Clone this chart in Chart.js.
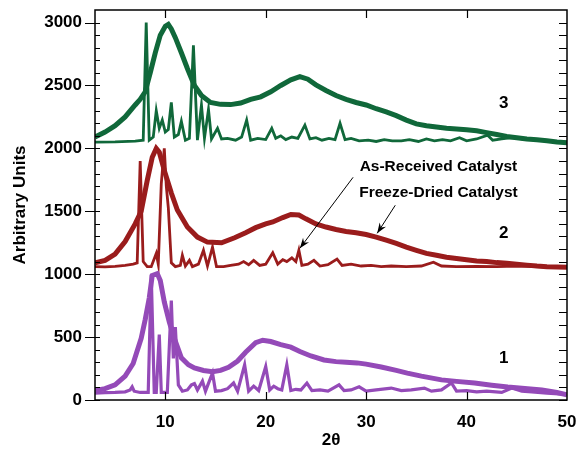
<!DOCTYPE html>
<html>
<head>
<meta charset="utf-8">
<script src="https://cdn.jsdelivr.net/npm/chart.js@4.4.1/dist/chart.umd.min.js"></script>
<style>
  html, body { margin: 0; padding: 0; background: #fff; }
  #wrap { position: relative; width: 577px; height: 449px; }
</style>
</head>
<body>
<div id="wrap"><canvas id="chart"></canvas></div>
<script>
// sample 3 (top, green)
const s3HumpX = [3, 4, 5, 6, 7, 7.5, 8.0, 8.5, 9.0, 9.5, 10.0, 10.3, 10.6, 11.0, 11.6, 12.2, 12.9, 13.6, 14.5, 15.5, 16.5, 17.5, 18.5, 19.5, 20.5, 21.5, 22.5, 23.4, 24.2, 25.0, 26.0, 27.0, 28.0, 29.0, 30.0, 31.0, 32.0, 33.0, 34.0, 35.0, 36.0, 37.0, 38.0, 39.0, 40.0, 41.0, 42.0, 43.0, 44.0, 45.0, 46.0, 47.0, 48.0, 49.0, 50];
const s3HumpY = [2090, 2130, 2180, 2250, 2345, 2390, 2450, 2600, 2760, 2900, 2970, 2985, 2950, 2880, 2760, 2635, 2500, 2420, 2365, 2350, 2348, 2360, 2390, 2410, 2450, 2500, 2545, 2570, 2550, 2505, 2460, 2420, 2390, 2365, 2345, 2315, 2290, 2260, 2225, 2195, 2180, 2170, 2160, 2155, 2148, 2140, 2125, 2110, 2095, 2085, 2075, 2068, 2060, 2050, 2045];
const s3PeaksX = [3, 5, 7, 7.8, 8.1, 8.4, 8.8, 9.1, 9.4, 9.7, 10.0, 10.3, 10.6, 10.9, 11.3, 11.6, 12.0, 12.4, 12.8, 13.2, 13.6, 13.9, 14.3, 14.6, 15.2, 15.6, 16.2, 17.0, 17.6, 18.1, 18.5, 19.2, 20.0, 20.6, 21.0, 21.5, 22.0, 22.6, 23.2, 23.9, 24.4, 25.0, 25.6, 26.3, 26.9, 27.4, 27.9, 28.5, 29.3, 30.2, 31.0, 31.8, 32.6, 33.5, 34.3, 35.2, 36.0, 36.8, 37.6, 38.4, 39.3, 40.0, 41.0, 42.1, 42.6, 43.5, 44.5, 45.5, 46.5, 47.5, 48.5, 50];
const s3PeaksY = [2050, 2052, 2058, 2065, 3000, 2065, 2090, 2300, 2160, 2225, 2130, 2150, 2365, 2090, 2110, 2215, 2065, 2080, 2820, 2065, 2345, 2080, 2310, 2075, 2160, 2075, 2080, 2065, 2090, 2225, 2065, 2080, 2070, 2160, 2080, 2100, 2070, 2090, 2080, 2185, 2075, 2085, 2065, 2080, 2070, 2200, 2070, 2080, 2060, 2065, 2055, 2070, 2060, 2060, 2070, 2055, 2075, 2060, 2070, 2060, 2085, 2060, 2075, 2105, 2065, 2075, 2085, 2075, 2070, 2065, 2055, 2050];

// sample 2 (middle, red)
const s2HumpX = [3, 4, 5, 6, 7, 7.6, 8.2, 8.7, 9.1, 9.4, 9.9, 10.6, 11.2, 12.2, 13.2, 14.2, 15.6, 16.9, 18.0, 19.0, 20.0, 20.7, 21.7, 22.5, 23.3, 24.0, 25.0, 26.0, 27.0, 28.0, 29.0, 30.0, 31.0, 32.0, 33.0, 34.0, 35.0, 36.0, 37.0, 38.0, 39.0, 40.0, 41.0, 42.0, 43.0, 44.0, 45.0, 46.0, 47.0, 48.0, 49.0, 50];
const s2HumpY = [1090, 1110, 1160, 1260, 1400, 1500, 1745, 1930, 2000, 1970, 1825, 1645, 1510, 1375, 1295, 1255, 1250, 1290, 1330, 1370, 1400, 1415, 1450, 1475, 1470, 1440, 1400, 1375, 1355, 1340, 1330, 1315, 1295, 1270, 1245, 1215, 1190, 1165, 1150, 1135, 1125, 1115, 1105, 1100, 1092, 1087, 1080, 1072, 1065, 1060, 1057, 1055];
const s2PeaksX = [3, 4, 5, 6, 6.8, 7.2, 7.5, 7.8, 8.2, 8.6, 9.1, 9.3, 9.6, 9.9, 10.1, 10.3, 10.6, 11.0, 11.5, 11.7, 12.0, 12.4, 12.7, 13.3, 13.8, 14.2, 14.7, 15.1, 15.8, 16.5, 17.3, 17.8, 18.3, 18.8, 19.4, 20.0, 20.7, 21.2, 21.7, 22.1, 22.6, 23.0, 23.3, 23.6, 24.2, 24.8, 25.4, 26.2, 27.1, 27.6, 28.5, 29.5, 30.5, 31.5, 32.5, 34, 35.5, 36.7, 37.5, 39, 41, 43, 45, 47, 50];
const s2PeaksY = [1060, 1058, 1062, 1070, 1080, 1090, 1900, 1100, 1060, 1060, 1165, 1080, 1720, 2000, 1700, 1530, 1090, 1060, 1070, 1150, 1065, 1110, 1060, 1080, 1190, 1065, 1215, 1060, 1060, 1070, 1080, 1100, 1075, 1110, 1070, 1080, 1170, 1080, 1115, 1100, 1130, 1100, 1190, 1070, 1080, 1110, 1065, 1075, 1120, 1070, 1080, 1065, 1070, 1060, 1065, 1060, 1065, 1095, 1065, 1060, 1062, 1060, 1065, 1060, 1055];

// sample 1 (bottom, purple)
const s1HumpX = [3, 4, 5, 6, 6.8, 7.6, 8.0, 8.4, 8.7, 9.2, 9.5, 9.9, 10.4, 10.9, 11.6, 12.3, 12.9, 13.8, 14.7, 15.5, 16.3, 17.2, 18.0, 19.0, 19.7, 20.5, 21.5, 22.5, 23.4, 24.5, 25.8, 27.0, 28.0, 29.1, 30.0, 31.5, 33.0, 34.1, 35.5, 37.5, 39.0, 40.8, 42.5, 44.1, 45.8, 47.5, 49.0, 50];
const s1HumpY = [75, 90, 120, 190, 290, 490, 640, 810, 990, 1005, 950, 780, 620, 490, 335, 280, 255, 235, 225, 235, 260, 310, 380, 455, 475, 465, 440, 420, 385, 350, 318, 305, 300, 295, 285, 262, 235, 214, 190, 160, 148, 135, 118, 103, 92, 79, 60, 42];
const s1PeaksX = [3, 4, 5, 6, 6.5, 6.7, 6.9, 7.5, 8.3, 8.6, 8.9, 9.1, 9.4, 9.6, 10.2, 10.6, 10.8, 11.0, 11.3, 11.7, 12.2, 12.6, 12.9, 13.2, 13.7, 14.0, 14.7, 15.0, 15.6, 16.2, 16.8, 17.2, 17.9, 18.3, 18.8, 19.3, 20.0, 20.4, 20.8, 21.2, 21.6, 22.1, 22.5, 23.0, 23.5, 24.1, 24.6, 25.4, 26.2, 27.3, 27.8, 28.5, 29.3, 30.0, 31.0, 32.5, 33.5, 34.5, 35.8, 36.5, 37.5, 38.5, 39.0, 40, 41, 42, 43.5, 44.5, 45.5, 46.5, 48, 50];
const s1PeaksY = [55, 58, 60, 65, 80, 105, 70, 60, 60, 995, 60, 60, 520, 60, 60, 790, 330, 580, 120, 70, 80, 120, 130, 80, 150, 70, 215, 70, 75, 90, 135, 70, 280, 70, 110, 75, 265, 80, 110, 90, 80, 280, 75, 85, 80, 135, 75, 80, 70, 120, 75, 80, 105, 70, 80, 95, 75, 80, 95, 70, 80, 135, 70, 75, 65, 70, 60, 95, 70, 65, 55, 45];

const xTickValues = [10, 20, 30, 40, 50];
const yTickValues = [0, 500, 1000, 1500, 2000, 2500, 3000];
const sampleNames = ['1', '2', '3'];
const arrowLabels = ['As-Received Catalyst', 'Freeze-Dried Catalyst'];

const green = '#10683a';
const red = '#9a1c1c';
const purple = '#944ab8';
const FONT = '"Liberation Sans", Arial, sans-serif';

function pts(xs, ys) {
    return xs.map((x, i) => ({ x: x, y: ys[i] }));
}

function line(xs, ys, color, width) {
    return {
        data: pts(xs, ys),
        borderColor: color,
        borderWidth: width,
        pointRadius: 0,
        tension: 0,
        fill: false
    };
}

// frame, inward/outward tick marks, annotations and arrows
const decorations = {
    id: 'decorations',
    afterDraw(chart) {
        const { ctx, chartArea: a, scales: { x, y } } = chart;
        ctx.save();
        ctx.strokeStyle = '#000';
        ctx.lineWidth = 1.5;
        ctx.strokeRect(a.left, a.top, a.right - a.left, a.bottom - a.top);

        ctx.lineWidth = 1.2;
        ctx.beginPath();
        for (let v = 0; v <= 3000; v += 100) {
            const py = Math.round(y.getPixelForValue(v)) + 0.5;
            if (v % 500 === 0) {
                ctx.moveTo(a.left - 10, py);
                ctx.lineTo(a.left, py);
            }
            ctx.moveTo(a.left, py);
            ctx.lineTo(a.left + 5, py);
            ctx.moveTo(a.right - 8, py);
            ctx.lineTo(a.right, py);
        }
        for (const v of xTickValues.slice(0, -1)) {
            const px = Math.round(x.getPixelForValue(v)) + 0.5;
            ctx.moveTo(px, a.top);
            ctx.lineTo(px, a.top + 8);
            ctx.moveTo(px, a.bottom);
            ctx.lineTo(px, a.bottom - 8);
        }
        ctx.stroke();

        ctx.fillStyle = '#000';
        ctx.textAlign = 'center';
        ctx.textBaseline = 'middle';
        ctx.font = 'bold 17px ' + FONT;
        const nameY = [333, 1325, 2357];
        sampleNames.forEach((n, i) => {
            ctx.fillText(n, x.getPixelForValue(43.7), y.getPixelForValue(nameY[i]));
        });

        ctx.font = 'bold 15.5px ' + FONT;
        ctx.fillText(arrowLabels[0], x.getPixelForValue(37.2), y.getPixelForValue(1857));
        ctx.fillText(arrowLabels[1], x.getPixelForValue(37.2), y.getPixelForValue(1651));

        const arrow = (x0, y0, x1, y1) => {
            const p0 = [x.getPixelForValue(x0), y.getPixelForValue(y0)];
            const p1 = [x.getPixelForValue(x1), y.getPixelForValue(y1)];
            const ang = Math.atan2(p1[1] - p0[1], p1[0] - p0[0]);
            ctx.lineWidth = 1;
            ctx.beginPath();
            ctx.moveTo(p0[0], p0[1]);
            ctx.lineTo(p1[0], p1[1]);
            ctx.stroke();
            ctx.beginPath();
            ctx.moveTo(p1[0], p1[1]);
            ctx.lineTo(p1[0] - 11 * Math.cos(ang - 0.35), p1[1] - 11 * Math.sin(ang - 0.35));
            ctx.lineTo(p1[0] - 7 * Math.cos(ang), p1[1] - 7 * Math.sin(ang));
            ctx.lineTo(p1[0] - 11 * Math.cos(ang + 0.35), p1[1] - 11 * Math.sin(ang + 0.35));
            ctx.closePath();
            ctx.fill();
        };
        arrow(28.7, 1770, 23.4, 1206);
        arrow(32.9, 1548, 31.1, 1325);
        ctx.restore();
    }
};

const ctx = document.getElementById('chart').getContext('2d');

new Chart(ctx, {
    type: 'line',
    data: {
        datasets: [
            line(s1HumpX, s1HumpY, purple, 5),
            line(s1PeaksX, s1PeaksY, purple, 3.2),
            line(s2HumpX, s2HumpY, red, 5),
            line(s2PeaksX, s2PeaksY, red, 2.8),
            line(s3HumpX, s3HumpY, green, 5),
            line(s3PeaksX, s3PeaksY, green, 2.8)
        ]
    },
    options: {
        responsive: true,
        maintainAspectRatio: false,
        animation: false,
        layout: {
            autoPadding: false,
            padding: { left: 0, top: 10, right: 10, bottom: 0 }
        },
        plugins: {
            legend: { display: false },
            tooltip: { enabled: false }
        },
        scales: {
            x: {
                type: 'linear',
                min: 3,
                max: 50,
                grid: { display: false, drawTicks: false },
                border: { display: false },
                afterBuildTicks(scale) {
                    scale.ticks = xTickValues.map(v => ({ value: v }));
                },
                ticks: {
                    padding: 12,
                    maxRotation: 0,
                    autoSkip: false,
                    color: '#000',
                    font: { family: FONT, size: 17, weight: 'bold' },
                    callback: v => String(v)
                },
                title: {
                    display: true,
                    text: '2θ',
                    color: '#000',
                    padding: { top: 0, bottom: 0 },
                    font: { family: FONT, size: 17, weight: 'bold', lineHeight: 1 }
                },
                afterFit(scale) {
                    scale.height = 49;
                    scale.paddingLeft = 0;
                    scale.paddingRight = 0;
                }
            },
            y: {
                min: 0,
                max: 3100,
                grid: { display: false, drawTicks: false },
                border: { display: false },
                afterBuildTicks(scale) {
                    scale.ticks = yTickValues.map(v => ({ value: v }));
                },
                ticks: {
                    padding: 13,
                    autoSkip: false,
                    color: '#000',
                    font: { family: FONT, size: 17, weight: 'bold' },
                    callback: v => String(v)
                },
                title: {
                    display: true,
                    text: 'Arbitrary Units',
                    color: '#000',
                    padding: { top: 10, bottom: 0 },
                    font: { family: FONT, size: 17, weight: 'bold' }
                },
                afterFit(scale) {
                    scale.width = 95;
                    scale.paddingTop = 0;
                    scale.paddingBottom = 0;
                }
            }
        }
    },
    plugins: [decorations]
});
</script>
</body>
</html>
